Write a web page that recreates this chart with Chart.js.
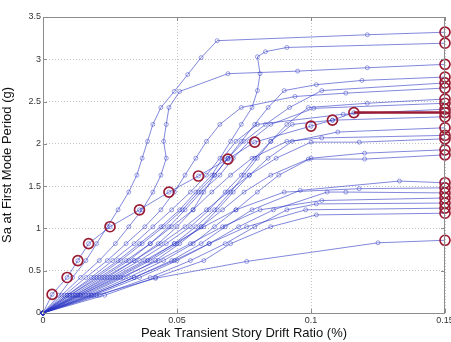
<!DOCTYPE html>
<html>
<head>
<meta charset="utf-8">
<script src="https://cdn.jsdelivr.net/npm/chart.js@4"></script>
<style>
  html, body { margin: 0; padding: 0; overflow: hidden; background: #fff; }
  #wrap { position: absolute; left: 0; top: 0; width: 457px; height: 342px; }
</style>
</head>
<body>
<div id="wrap"><canvas id="ida" width="457" height="342"></canvas></div>
<script>
// Incremental dynamic analysis curves: spectral acceleration vs. peak story drift.
const xTicks = [0, 0.05, 0.1, 0.15];
const yTicks = [0, 0.5, 1, 1.5, 2, 2.5, 3, 3.5];

// Sa (g) at each analysis step of every ground-motion record
const recordSa = [
  [0,0.21,0.42,0.62,0.82,1.02,1.22,1.43,1.63,1.83,2.03,2.23,2.43,2.62,2.82,3.02,3.22,3.29,3.32],
  [0,0.21,0.42,0.62,0.82,1.02,1.22,1.43,1.63,1.83,2.03,2.23,2.43,2.63,2.83,3.03,3.09,3.14,3.19],
  [0,0.21,0.42,0.62,0.82,1.02,1.22,1.43,1.63,1.83,2.03,2.23,2.43,2.62,2.83,2.86,2.90,2.94],
  [0,0.21,0.42,0.62,0.82,1.02,1.22,1.43,1.63,1.83,2.03,2.23,2.43,2.63,2.70,2.75,2.79],
  [0,0.21,0.42,0.62,0.82,1.02,1.22,1.43,1.63,1.83,2.03,2.23,2.43,2.63,2.72],
  [0,0.21,0.42,0.62,0.82,1.02,1.22,1.43,1.63,1.83,2.03,2.23,2.43,2.56,2.60,2.66],
  [0,0.21,0.42,0.62,0.82,1.02,1.22,1.43,1.63,1.83,2.03,2.23,2.43,2.48,2.53],
  [0,0.21,0.42,0.62,0.82,1.02,1.22,1.43,1.63,1.83,2.03,2.23,2.42,2.48],
  [0,0.21,0.42,0.62,0.82,1.02,1.22,1.43,1.63,1.83,2.03,2.23,2.35,2.41],
  [0,0.22,0.42,0.62,0.82,1.02,1.22,1.43,1.62,1.82,2.02,2.21,2.28,2.37,2.37],
  [0,0.21,0.42,0.62,0.82,1.02,1.22,1.43,1.63,1.83,2.03,2.23,2.28,2.32],
  [0,0.21,0.42,0.62,0.82,1.02,1.22,1.43,1.63,1.83,2.03,2.14,2.19],
  [0,0.21,0.42,0.62,0.82,1.02,1.22,1.43,1.63,1.83,2.03,2.07,2.10],
  [0,0.21,0.42,0.62,0.82,1.02,1.22,1.43,1.63,1.83,2.02,2.02,2.06],
  [0,0.21,0.42,0.62,0.82,1.02,1.22,1.43,1.63,1.83,1.89,1.93],
  [0,0.21,0.42,0.62,0.82,1.02,1.22,1.43,1.63,1.82,1.82,1.87],
  [0,0.21,0.42,0.62,0.82,1.02,1.22,1.45,1.56,1.54],
  [0,0.21,0.42,0.62,0.82,1.02,1.22,1.43,1.47,1.48],
  [0,0.21,0.42,0.62,0.82,1.02,1.22,1.43,1.43,1.42],
  [0,0.21,0.42,0.62,0.82,1.02,1.22,1.33,1.36],
  [0,0.21,0.42,0.62,0.82,1.02,1.22,1.29,1.30],
  [0,0.21,0.42,0.62,0.82,1.02,1.22,1.24],
  [0,0.21,0.42,0.62,0.82,1.02,1.16,1.18],
  [0,0.21,0.41,0.61,0.83,0.86]
];

// Peak transient story drift ratio (%) at the same steps
const recordDrift = [
  [0,0.006,0.011,0.016,0.020,0.024,0.028,0.032,0.035,0.037,0.039,0.041,0.044,0.049,0.054,0.059,0.065,0.121,0.150],
  [0,0.009,0.018,0.026,0.034,0.041,0.048,0.055,0.061,0.066,0.070,0.074,0.078,0.080,0.081,0.080,0.083,0.091,0.150],
  [0,0.007,0.014,0.021,0.027,0.032,0.037,0.041,0.044,0.046,0.045,0.046,0.047,0.051,0.069,0.095,0.121,0.150],
  [0,0.010,0.020,0.029,0.037,0.045,0.052,0.058,0.064,0.069,0.074,0.079,0.084,0.090,0.102,0.119,0.150],
  [0,0.012,0.024,0.034,0.043,0.050,0.056,0.060,0.064,0.069,0.075,0.083,0.092,0.104,0.150],
  [0,0.008,0.016,0.024,0.031,0.038,0.044,0.049,0.053,0.057,0.061,0.066,0.074,0.094,0.113,0.150],
  [0,0.014,0.027,0.039,0.049,0.057,0.064,0.070,0.075,0.080,0.085,0.091,0.099,0.121,0.150],
  [0,0.011,0.022,0.032,0.040,0.047,0.053,0.059,0.066,0.071,0.077,0.085,0.101,0.150],
  [0,0.009,0.019,0.028,0.036,0.044,0.051,0.057,0.063,0.067,0.072,0.080,0.112,0.150],
  [0,0.0034,0.009,0.013,0.017,0.025,0.036,0.047,0.058,0.069,0.079,0.100,0.108,0.116,0.150],
  [0,0.013,0.025,0.036,0.046,0.055,0.062,0.068,0.074,0.079,0.085,0.093,0.108,0.150],
  [0,0.016,0.030,0.042,0.051,0.059,0.065,0.071,0.077,0.084,0.093,0.110,0.150],
  [0,0.010,0.021,0.031,0.040,0.048,0.056,0.063,0.070,0.078,0.091,0.104,0.150],
  [0,0.012,0.023,0.034,0.044,0.053,0.061,0.069,0.077,0.087,0.100,0.118,0.150],
  [0,0.017,0.032,0.045,0.056,0.064,0.072,0.080,0.088,0.100,0.120,0.150],
  [0,0.014,0.028,0.040,0.050,0.059,0.067,0.075,0.085,0.099,0.120,0.150],
  [0,0.018,0.034,0.048,0.059,0.068,0.078,0.096,0.133,0.150],
  [0,0.013,0.026,0.038,0.049,0.060,0.072,0.090,0.118,0.150],
  [0,0.019,0.036,0.050,0.062,0.073,0.086,0.106,0.113,0.150],
  [0,0.015,0.029,0.043,0.055,0.067,0.081,0.104,0.150],
  [0,0.021,0.040,0.055,0.068,0.079,0.091,0.102,0.150],
  [0,0.018,0.034,0.049,0.062,0.076,0.098,0.150],
  [0,0.023,0.042,0.060,0.070,0.085,0.102,0.150],
  [0,0.020,0.042,0.076,0.125,0.150]
];

// Record traced in red (index into the lists above)
const highlightRecord = 9;

const BLUE = 'rgba(40,50,195,0.58)';
const RED = '#9a1b33';

const toPoints = (xs, ys) => xs.map((x, i) => ({ x: x, y: ys[i] }));

const datasets = [];

recordDrift.forEach((drift, i) => {
  datasets.push({
    data: toPoints(drift, recordSa[i]),
    showLine: true,
    borderColor: BLUE,
    borderWidth: 1,
    pointRadius: drift.map((d, k) => (k === drift.length - 1 ? 0 : 2)),
    pointBorderColor: BLUE,
    pointBorderWidth: 0.8,
    pointBackgroundColor: 'rgba(255,255,255,0)',
    order: 2,
    clip: false
  });
});

// Collapse points at the flatline limit
datasets.push({
  data: recordDrift.map((drift, i) => ({ x: drift[drift.length - 1], y: recordSa[i][recordSa[i].length - 1] })),
  showLine: false,
  pointRadius: 5,
  pointBorderColor: RED,
  pointBorderWidth: 1.7,
  pointBackgroundColor: 'rgba(255,255,255,0)',
  order: 0,
  clip: false
});

// Highlighted record: circled steps and a heavy flatline
const hDrift = recordDrift[highlightRecord];
const hSa = recordSa[highlightRecord];
datasets.push({
  data: toPoints(hDrift.slice(1, -1), hSa.slice(1, -1)),
  showLine: false,
  pointRadius: 5,
  pointBorderColor: RED,
  pointBorderWidth: 1.7,
  pointBackgroundColor: 'rgba(255,255,255,0)',
  order: 0,
  clip: false
});
datasets.push({
  data: toPoints(hDrift.slice(-2), hSa.slice(-2)),
  showLine: true,
  borderColor: RED,
  borderWidth: 2.6,
  pointRadius: 0,
  order: 1,
  clip: false
});

// Box outline with inward tick marks on all four sides
const boxPlugin = {
  id: 'box',
  afterDatasetsDraw(chart) {
    const { ctx, chartArea: a, scales } = chart;
    ctx.save();
    ctx.strokeStyle = '#8c8c8c';
    ctx.lineWidth = 1;
    ctx.strokeRect(a.left + 0.5, a.top + 0.5, a.right - a.left - 1, a.bottom - a.top);
    ctx.beginPath();
    xTicks.forEach(v => {
      const px = Math.round(scales.x.getPixelForValue(v)) + 0.5;
      ctx.moveTo(px, a.bottom); ctx.lineTo(px, a.bottom - 4);
      ctx.moveTo(px, a.top); ctx.lineTo(px, a.top + 4);
    });
    yTicks.forEach(v => {
      const py = Math.round(scales.y.getPixelForValue(v)) + 0.5;
      ctx.moveTo(a.left, py); ctx.lineTo(a.left + 4, py);
      ctx.moveTo(a.right, py); ctx.lineTo(a.right - 4, py);
    });
    ctx.stroke();
    ctx.restore();
  }
};

const tickFont = { family: 'Liberation Sans, Arial, sans-serif', size: 9 };
const titleFont = { family: 'Liberation Sans, Arial, sans-serif', size: 13 };

new Chart(document.getElementById('ida'), {
  type: 'scatter',
  data: { datasets },
  options: {
    responsive: false,
    animation: false,
    devicePixelRatio: 1,
    layout: { padding: { top: 17, right: 12, left: 0, bottom: 0 } },
    plugins: { legend: { display: false }, tooltip: { enabled: false } },
    scales: {
      x: {
        type: 'linear',
        min: 0, max: 0.15,
        afterBuildTicks: s => { s.ticks = xTicks.map(v => ({ value: v })); },
        afterFit: s => { s.height = 29; },
        ticks: { font: tickFont, color: '#333', padding: 2, callback: v => String(v) },
        grid: { color: '#c4c4c4', drawTicks: false },
        border: { display: false, dash: [1, 2] },
        title: { display: true, text: 'Peak Transient Story Drift Ratio (%)', font: titleFont, color: '#111', padding: { top: 0, bottom: 1 } }
      },
      y: {
        type: 'linear',
        min: 0, max: 3.5,
        afterBuildTicks: s => { s.ticks = yTicks.map(v => ({ value: v })); },
        afterFit: s => { s.width = 43; },
        ticks: { font: tickFont, color: '#333', padding: 2, callback: v => String(v) },
        grid: { color: '#c4c4c4', drawTicks: false },
        border: { display: false, dash: [1, 2] },
        title: { display: true, text: 'Sa at First Mode Period (g)', font: titleFont, color: '#111', padding: { top: 0, bottom: 0 } }
      }
    }
  },
  plugins: [boxPlugin]
});
</script>
</body>
</html>
